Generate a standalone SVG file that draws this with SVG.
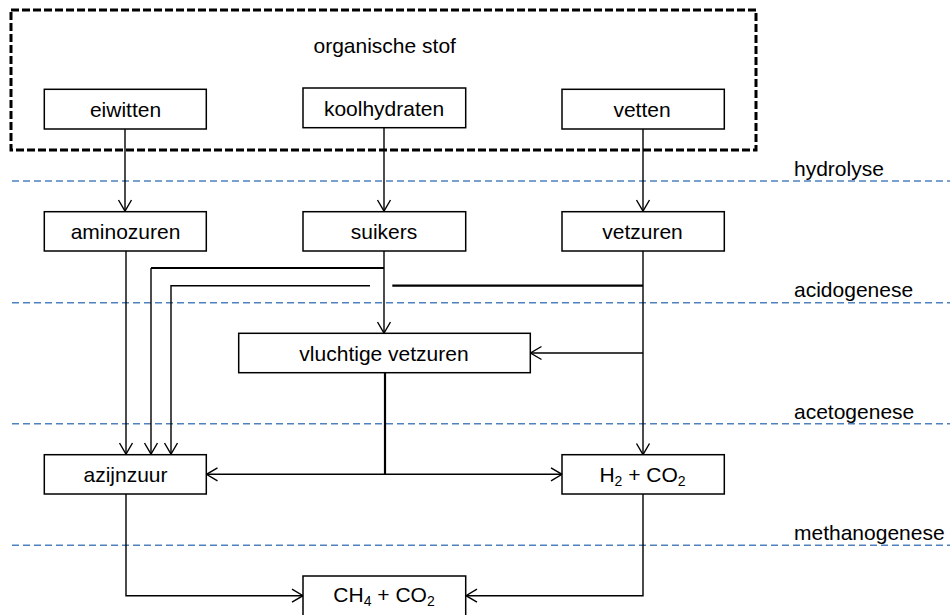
<svg xmlns="http://www.w3.org/2000/svg" width="950" height="615" viewBox="0 0 950 615">
<style>
  .box { fill: #fff; stroke: #000; stroke-width: 1.5; }
  .lbl { font-family: "Liberation Sans", Arial, sans-serif; font-size: 21px; fill: #000; text-anchor: middle; }
  .phase { font-family: "Liberation Sans", Arial, sans-serif; font-size: 21px; fill: #000; }
  .sub { font-size: 14px; }
  .conn { fill: none; stroke: #000; stroke-width: 1.4; }
  .thick { stroke-width: 2.2; }
  .sep { stroke: #4f81bd; stroke-width: 1.4; stroke-dasharray: 7,4; }
</style>
<defs>
  <marker id="arr" markerUnits="userSpaceOnUse" viewBox="-12 -8 14 16" refX="0" refY="0" markerWidth="14" markerHeight="16" orient="auto" overflow="visible">
    <path d="M-11,-6.5 L0,0 L-11,6.5" fill="none" stroke="#000" stroke-width="1.4"/>
  </marker>
</defs>

<!-- phase separators -->
<g id="separators">
  <line class="sep" x1="12" y1="181" x2="950" y2="181"/>
  <line class="sep" x1="12" y1="302.7" x2="950" y2="302.7"/>
  <line class="sep" x1="12" y1="423.7" x2="950" y2="423.7"/>
  <line class="sep" x1="12" y1="545.3" x2="950" y2="545.3"/>
</g>
<g id="phase-labels">
  <text class="phase" x="794" y="175.5">hydrolyse</text>
  <text class="phase" x="794" y="296.5">acidogenese</text>
  <text class="phase" x="794" y="419">acetogenese</text>
  <text class="phase" x="794" y="540">methanogenese</text>
</g>

<!-- group: organische stof -->
<g id="organische-stof">
  <rect x="11" y="10" width="745" height="140" fill="none" stroke="#000" stroke-width="3" stroke-dasharray="8,3"/>
  <text class="lbl" x="384.7" y="53">organische stof</text>
</g>

<g id="connectors">
  <path class="conn" d="M125,129 V211" marker-end="url(#arr)"/>
  <path class="conn" d="M384,128 V211" marker-end="url(#arr)"/>
  <path class="conn" d="M643,129 V211" marker-end="url(#arr)"/>
  <path class="conn" d="M126,251 V454" marker-end="url(#arr)"/>
  <path class="conn" d="M384,251 V333" marker-end="url(#arr)"/>
  <path class="conn thick" d="M384,268 H151"/>
  <path class="conn" d="M151,268 V454" marker-end="url(#arr)"/>
  <path class="conn" d="M643,251 V454.5" marker-end="url(#arr)"/>
  <path class="conn thick" d="M643,285.7 H392.3"/>
  <path class="conn" d="M370,285.7 H171 V454" marker-end="url(#arr)"/>
  <path class="conn" d="M643,353 H530.5" marker-end="url(#arr)"/>
  <path class="conn thick" d="M385,373 V474.3"/>
  <path class="conn" d="M385,474.3 H206.5" marker-end="url(#arr)"/>
  <path class="conn" d="M385,474.3 H562" marker-end="url(#arr)"/>
  <path class="conn" d="M126,494 V595.7 H303" marker-end="url(#arr)"/>
  <path class="conn" d="M643,494 V595.7 H466" marker-end="url(#arr)"/>
</g>

<g id="eiwitten">
  <rect class="box" x="44.3" y="89.3" width="162" height="39.7"/>
  <text class="lbl" x="125.5" y="117">eiwitten</text>
</g>
<g id="koolhydraten">
  <rect class="box" x="303" y="88" width="162.7" height="39.7"/>
  <text class="lbl" x="384" y="116">koolhydraten</text>
</g>
<g id="vetten">
  <rect class="box" x="562" y="89.3" width="162.3" height="39.7"/>
  <text class="lbl" x="642" y="117">vetten</text>
</g>
<g id="aminozuren">
  <rect class="box" x="44.3" y="211.7" width="162" height="39.3"/>
  <text class="lbl" x="125.5" y="238.5">aminozuren</text>
</g>
<g id="suikers">
  <rect class="box" x="303" y="211.7" width="162.7" height="39.3"/>
  <text class="lbl" x="384" y="238.5">suikers</text>
</g>
<g id="vetzuren">
  <rect class="box" x="562" y="211.7" width="162.3" height="39.3"/>
  <text class="lbl" x="642.5" y="238.5">vetzuren</text>
</g>
<g id="vluchtige-vetzuren">
  <rect class="box" x="238.7" y="333.3" width="291.6" height="39.4"/>
  <text class="lbl" x="384" y="361">vluchtige vetzuren</text>
</g>
<g id="azijnzuur">
  <rect class="box" x="44.3" y="454.7" width="162" height="39.3"/>
  <text class="lbl" x="125.5" y="481.7">azijnzuur</text>
</g>
<g id="h2-co2">
  <rect class="box" x="562" y="454.7" width="162.3" height="39.3"/>
  <text class="lbl" x="642.5" y="481.7">H<tspan class="sub" dy="4">2</tspan><tspan dy="-4"> + CO</tspan><tspan class="sub" dy="4">2</tspan></text>
</g>
<g id="ch4-co2">
  <rect class="box" x="303" y="576" width="162.7" height="40"/>
  <text class="lbl" x="384" y="601.7">CH<tspan class="sub" dy="4">4</tspan><tspan dy="-4"> + CO</tspan><tspan class="sub" dy="4">2</tspan></text>
</g>
</svg>
